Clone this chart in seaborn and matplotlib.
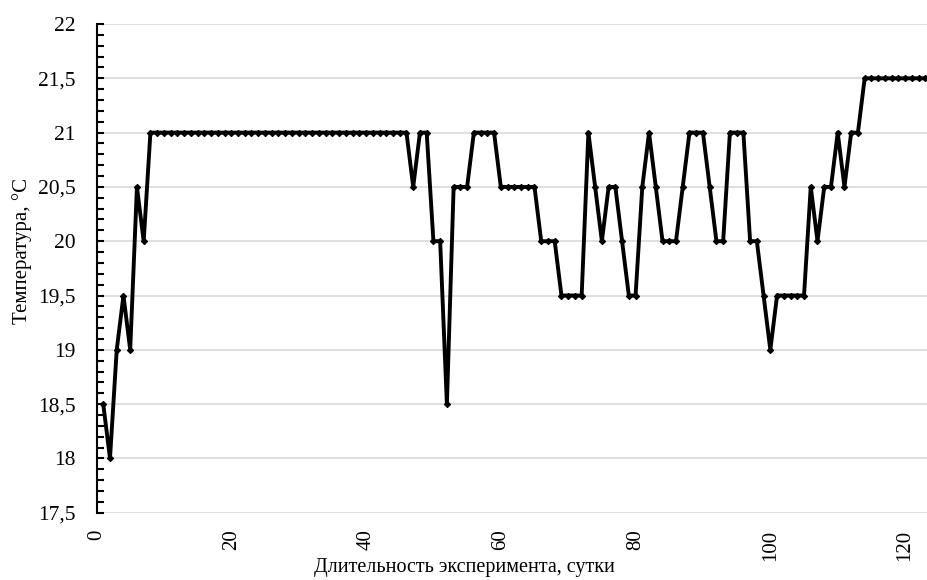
import matplotlib
matplotlib.use("Agg")
import matplotlib.pyplot as plt
import matplotlib.ticker as mticker
import seaborn as sns
import pandas as pd

# ---- data ----
days = list(range(1, 124))
temps = [
    18.5, 18.0, 19.0, 19.5, 19.0, 20.5, 20.0, 21.0, 21.0, 21.0,   # 1-10
    21.0, 21.0, 21.0, 21.0, 21.0, 21.0, 21.0, 21.0, 21.0, 21.0,   # 11-20
    21.0, 21.0, 21.0, 21.0, 21.0, 21.0, 21.0, 21.0, 21.0, 21.0,   # 21-30
    21.0, 21.0, 21.0, 21.0, 21.0, 21.0, 21.0, 21.0, 21.0, 21.0,   # 31-40
    21.0, 21.0, 21.0, 21.0, 21.0, 21.0, 20.5, 21.0, 21.0, 20.0,   # 41-50
    20.0, 18.5, 20.5, 20.5, 20.5, 21.0, 21.0, 21.0, 21.0, 20.5,   # 51-60
    20.5, 20.5, 20.5, 20.5, 20.5, 20.0, 20.0, 20.0, 19.5, 19.5,   # 61-70
    19.5, 19.5, 21.0, 20.5, 20.0, 20.5, 20.5, 20.0, 19.5, 19.5,   # 71-80
    20.5, 21.0, 20.5, 20.0, 20.0, 20.0, 20.5, 21.0, 21.0, 21.0,   # 81-90
    20.5, 20.0, 20.0, 21.0, 21.0, 21.0, 20.0, 20.0, 19.5, 19.0,   # 91-100
    19.5, 19.5, 19.5, 19.5, 19.5, 20.5, 20.0, 20.5, 20.5, 21.0,   # 101-110
    20.5, 21.0, 21.0, 21.5, 21.5, 21.5, 21.5, 21.5, 21.5, 21.5,   # 111-120
    21.5, 21.5, 21.5,                                             # 121-123
]
x_ticks = [0, 20, 40, 60, 80, 100, 120]
x_tick_labels = ["0", "20", "40", "60", "80", "100", "120"]
y_ticks = [17.5, 18, 18.5, 19, 19.5, 20, 20.5, 21, 21.5, 22]
y_tick_labels = ["17,5", "18", "18,5", "19", "19,5", "20", "20,5", "21", "21,5", "22"]
x_title = "Длительность эксперимента, сутки"
y_title = "Температура, °C"

df = pd.DataFrame({"day": days, "temp": temps})

sns.set_style("white")
plt.rcParams["font.family"] = ["Liberation Serif", "DejaVu Serif"]

fig = plt.figure(figsize=(9.28, 5.8), dpi=100)
ax = fig.add_axes([0.104, 0.116, 0.896, 0.8426])

sns.lineplot(data=df, x="day", y="temp", ax=ax, color="black", linewidth=2.8,
             marker="D", markersize=3.2, markeredgecolor="black", zorder=3)

ax.set_xlim(0, 123.4)
ax.set_ylim(17.5, 22)
ax.set_xticks(x_ticks)
ax.set_xticklabels(x_tick_labels, rotation=90, fontsize=15)
ax.set_yticks(y_ticks)
ax.set_yticklabels(y_tick_labels, fontsize=15.5)
ax.yaxis.set_minor_locator(mticker.MultipleLocator(0.1))

ax.grid(axis="y", which="major", color="#d9d9d9", linewidth=1.2, zorder=0)
ax.grid(axis="x", visible=False)

for s in ["top", "right", "bottom"]:
    ax.spines[s].set_visible(False)
ax.spines["left"].set_color("black")
ax.spines["left"].set_linewidth(1.5)

ax.tick_params(axis="y", which="both", direction="in", length=5, width=1.5,
               left=True, pad=15, colors="black")
ax.tick_params(axis="x", which="both", length=0, pad=12, colors="black")

ax.set_xlabel(x_title, fontsize=14.5, color="black")
ax.set_ylabel(y_title, fontsize=15, color="black")
ax.xaxis.set_label_coords(0.443, -0.093)
ax.yaxis.set_label_coords(-0.078, 0.535)

fig.savefig("out.png", dpi=100)
